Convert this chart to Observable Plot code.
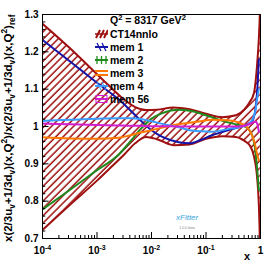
<!DOCTYPE html>
<html><head><meta charset="utf-8">
<script src="https://cdn.jsdelivr.net/npm/d3@7"></script>
<script src="https://cdn.jsdelivr.net/npm/@observablehq/plot@0.6"></script>
<style>
body{margin:0;background:#fff;}
#wrap{position:relative;width:274px;height:266px;overflow:hidden;font-family:"Liberation Sans",Arial,sans-serif;font-weight:bold;color:#000;}
.ov{position:absolute;white-space:nowrap;line-height:13px;}
.lg{position:absolute;left:95px;top:28px;font-size:10.5px;}
.row{height:12.9px;display:flex;align-items:center;white-space:nowrap;}
.row svg{width:13px;height:10px;margin-right:2px;flex:none;}
sub,sup{font-size:72%;line-height:0;}
#ytitle{position:absolute;font-size:11.5px;transform-origin:0 0;transform:rotate(-90deg);white-space:nowrap;line-height:13px;}
</style></head><body><div id="wrap"></div>
<script>
// CT14nnlo uncertainty band (ratio to its central value)
const bandX  = [1e-4, 3.16e-4, 1e-3, 1.78e-3, 3.16e-3, 5.01e-3, 7.94e-3, 1.26e-2, 2.51e-2, 5.01e-2, 0.1, 0.2, 0.355, 0.501, 0.631, 0.759, 0.871, 0.933, 0.97, 0.991];
const bandHi = [1.275, 1.21, 1.14, 1.105, 1.072, 1.052, 1.044, 1.045, 1.051, 1.046, 1.034, 1.025, 1.03, 1.045, 1.065, 1.09, 1.17, 1.237, 1.3, 1.37];
const bandLo = [0.723, 0.79, 0.855, 0.89, 0.925, 0.955, 0.972, 0.966, 0.95, 0.952, 0.967, 0.974, 0.972, 0.962, 0.95, 0.92, 0.86, 0.79, 0.70, 0.6];

// member curves
const memX  = [1e-4, 3.16e-4, 1e-3, 2.51e-3, 3.98e-3, 6.31e-3, 1e-2, 1.58e-2, 3.16e-2, 5.01e-2, 7.94e-2, 0.126, 0.251, 0.398, 0.562, 0.708, 0.813, 0.871, 0.933];
const mem1  = [1.232, 1.175, 1.117, 1.072, 1.045, 1.016, 0.99, 0.972, 0.958, 0.955, 0.964, 0.976, 0.99, 0.998, 1.005, 1.015, 1.05, 1.096, 1.18];
const mem2  = [0.778, 0.83, 0.883, 0.925, 0.958, 0.993, 1.021, 1.036, 1.045, 1.042, 1.035, 1.025, 1.011, 1.004, 0.997, 0.975, 0.93, 0.883, 0.829];
const mem3  = [0.971, 0.968, 0.967, 0.970, 0.976, 0.984, 0.99, 0.997, 1.006, 1.010, 1.014, 1.018, 1.017, 1.011, 0.998, 0.975, 0.945, 0.925, 0.909];
const mem4  = [1.015, 1.018, 1.021, 1.022, 1.022, 1.020, 1.014, 1.007, 0.998, 0.990, 0.987, 0.986, 0.993, 0.998, 1.004, 1.018, 1.045, 1.075, 1.1];
const mem56 = [1.008, 1.006, 1.004, 1.003, 1.002, 1.002, 1.001, 1.001, 1.0, 1.0, 1.0, 1.0, 1.0, 1.0, 1.004, 1.01, 1.013, 1.008, 0.985];

const seriesNames  = ["mem 1", "mem 2", "mem 3", "mem 4", "mem 56"];
const seriesValues = [mem1, mem2, mem3, mem4, mem56];
const seriesColors = ["#1414a8", "#1e8a1e", "#ff7800", "#3a9cff", "#d21ed2"];
const bandName  = "CT14nnlo";
const bandColor = "#9e0f0f";

const yTicks = [0.7, 0.8, 0.9, 1, 1.1, 1.2, 1.3];
const yTickLabels = ["0.7", "0.8", "0.9", "1", "1.1", "1.2", "1.3"];
const yMinorTicks = d3.range(70, 131, 2).map(v => v / 100);
const xTicks = [1e-4, 1e-3, 1e-2, 1e-1, 1];
const xTickLabels = ["10^-4", "10^-3", "10^-2", "10^-1", "1"];
const xMinorTicks = d3.range(-4, 0).flatMap(e => d3.range(2, 10).map(m => m * Math.pow(10, e)));

const band = bandX.map((x, i) => ({x, hi: bandHi[i], lo: bandLo[i]}));
const lines = seriesNames.flatMap((name, s) => memX.map((x, i) => ({name, x, y: seriesValues[s][i]})));
const xLabel = new Map(xTicks.map((t, i) => [t, xTickLabels[i]]));
const yLabel = new Map(yTicks.map((t, i) => [t, yTickLabels[i]]));

const plot = Plot.plot({
  width: 274, height: 266,
  marginLeft: 42, marginRight: 14, marginTop: 14, marginBottom: 28,
  x: {type: "log", domain: [1e-4, 1]},
  y: {domain: [0.7, 1.3]},
  color: {domain: seriesNames, range: seriesColors},
  style: {fontFamily: "'Liberation Sans', Arial, sans-serif", fontWeight: "bold", fontSize: "10px", background: "white", color: "black"},
  marks: [
    Plot.areaY(band, {x: "x", y1: "lo", y2: "hi", fill: "url(#hatch)", curve: "monotone-x", clip: true}),
    Plot.lineY(band, {x: "x", y: "hi", stroke: bandColor, strokeWidth: 2, curve: "monotone-x", clip: true}),
    Plot.lineY(band, {x: "x", y: "lo", stroke: bandColor, strokeWidth: 2, curve: "monotone-x", clip: true}),
    Plot.lineY(lines, {x: "x", y: "y", z: "name", stroke: "name", strokeWidth: 2, curve: "monotone-x", clip: true}),
    Plot.frame({stroke: "black", strokeWidth: 1}),
    Plot.axisX({ticks: xTicks, tickSize: 0, tickPadding: 8, tickFormat: d => xLabel.get(d), label: null}),
    Plot.axisX({ticks: xTicks, tickSize: -6, tickFormat: () => "", label: null}),
    Plot.axisX({ticks: xMinorTicks, tickSize: -3, tickFormat: () => "", label: null}),
    Plot.axisY({ticks: yTicks, tickSize: 0, tickPadding: 4, tickFormat: d => yLabel.get(d), label: null}),
    Plot.axisY({ticks: yTicks, tickSize: -6.5, tickFormat: () => "", label: null}),
    Plot.axisY({ticks: yMinorTicks, tickSize: -3.3, tickFormat: () => "", label: null})
  ]
});

const ns = "http://www.w3.org/2000/svg";
const defs = document.createElementNS(ns, "defs");
defs.innerHTML = `<pattern id="hatch" patternUnits="userSpaceOnUse" width="5.2" height="5.2" patternTransform="rotate(45)"><line x1="1" y1="-1" x2="1" y2="7" stroke="${bandColor}" stroke-width="1.5"/></pattern>`;
plot.prepend(defs);

// superscript exponents in tick labels
plot.querySelectorAll("text").forEach(t => {
  const s = t.textContent;
  if (s.includes("^")) {
    const [b, e] = s.split("^");
    t.textContent = b;
    const ts = document.createElementNS(ns, "tspan");
    ts.setAttribute("dy", "-0.45em");
    ts.setAttribute("font-size", "70%");
    ts.textContent = e;
    t.appendChild(ts);
  }
});

const wrap = document.getElementById("wrap");
wrap.appendChild(plot);
plot.style.position = "absolute"; plot.style.left = "0"; plot.style.top = "0";

// Legend
const swatches = {
  [bandName]: `<path d="M0,5H13" stroke="${bandColor}" stroke-width="1.5"/><path d="M1,9L5,1M5,9L9,1M9,9L13,1" stroke="${bandColor}" stroke-width="2"/>`,
  "mem 1": `<path d="M0,5H13" stroke="${seriesColors[0]}" stroke-width="2"/><path d="M2,1L6,9M7,1L11,9" stroke="${seriesColors[0]}" stroke-width="1.3"/>`,
  "mem 2": `<path d="M0,5H13" stroke="${seriesColors[1]}" stroke-width="2"/><path d="M2,1V9M6.5,1V9M11,1V9" stroke="${seriesColors[1]}" stroke-width="1.3"/>`,
  "mem 3": `<path d="M0,3H13M0,7H13" stroke="${seriesColors[2]}" stroke-width="2"/>`,
  "mem 4": `<path d="M0,5H13" stroke="${seriesColors[3]}" stroke-width="2"/><path d="M2,1L6,9M7,1L11,9" stroke="${seriesColors[3]}" stroke-width="1"/>`,
  "mem 56": `<rect x="1" y="1.5" width="11" height="7" fill="none" stroke="${seriesColors[4]}" stroke-width="1"/><path d="M0,5H13" stroke="${seriesColors[4]}" stroke-width="2"/>`
};
const lg = document.createElement("div");
lg.className = "lg";
lg.innerHTML = [bandName, ...seriesNames].map(n =>
  `<div class="row"><svg viewBox="0 0 13 10">${swatches[n]}</svg><span>${n}</span></div>`).join("");
wrap.appendChild(lg);

const q = document.createElement("div");
q.className = "ov";
q.style.cssText = "left:110px;top:14px;font-size:10.5px;";
q.innerHTML = "Q<sup>2</sup> = 8317 GeV<sup>2</sup>";
wrap.appendChild(q);

const yt = document.createElement("div");
yt.id = "ytitle";
yt.innerHTML = "x(2/3u<sub>v</sub>+1/3d<sub>v</sub>)(x,Q<sup>2</sup>)/x(2/3u<sub>v</sub>+1/3d<sub>v</sub>)(x,Q<sup>2</sup>)<sub>ref</sub>";
wrap.appendChild(yt);
const w = yt.offsetWidth;
yt.style.left = "2px";
yt.style.top = (128 + w / 2) + "px";

const xt = document.createElement("div");
xt.className = "ov";
xt.style.cssText = "left:244px;top:250px;font-size:11px;";
xt.textContent = "x";
wrap.appendChild(xt);

const logo = document.createElement("div");
logo.className = "ov";
logo.style.cssText = "left:176px;top:213px;font-size:8px;font-style:italic;font-weight:normal;color:#3aa6e0;line-height:9px;text-align:center;";
logo.innerHTML = "xFitter<br><span style='font-size:3.5px;color:#888;font-style:normal;line-height:4px'>1.0.0-beta</span>";
wrap.appendChild(logo);
</script>
</body></html>
